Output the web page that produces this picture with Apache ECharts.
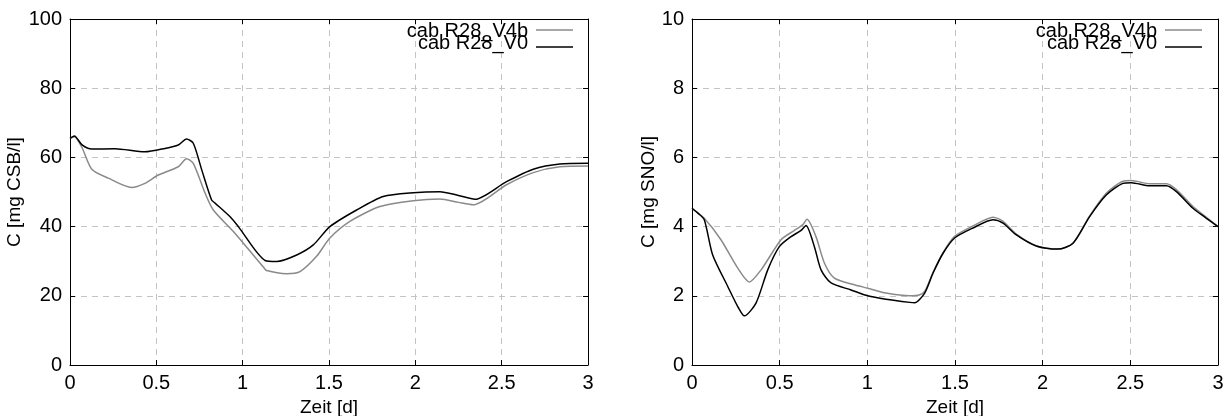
<!DOCTYPE html>
<html>
<head>
<meta charset="utf-8">
<script src="https://cdn.jsdelivr.net/npm/echarts@6/dist/echarts.min.js"></script>
<style>
html,body{margin:0;padding:0;background:#fff;}
#chart{width:1230px;height:416px;}
</style>
</head>
<body>
<div id="chart"></div>
<script>
// Tick labels
const xTicks = [0, 0.5, 1, 1.5, 2, 2.5, 3];
const seriesNames = ['cab R28_V4b', 'cab R28_V0'];

// CSB, variant V4b
const csbV4bT = [0, 0.025, 0.068, 0.126, 0.222, 0.357, 0.434, 0.511, 0.627, 0.675, 0.714, 0.782, 0.83, 0.955, 1.12, 1.139, 1.255, 1.332, 1.428, 1.505, 1.621, 1.795, 1.988, 2.142, 2.25, 2.335, 2.528, 2.683, 2.837, 3];
const csbV4b  = [65.5, 66.0, 63.0, 56.6, 54.0, 51.3, 52.5, 54.9, 57.3, 59.6, 58.3, 49.7, 44.8, 38.1, 28.3, 27.3, 26.4, 27.0, 31.4, 36.7, 41.5, 45.8, 47.5, 48.0, 47.0, 46.3, 52.1, 55.6, 57.3, 57.5];

// CSB, variant V0
const csbV0T = [0, 0.025, 0.07, 0.126, 0.26, 0.434, 0.55, 0.627, 0.675, 0.714, 0.763, 0.82, 0.84, 0.926, 0.975, 1.13, 1.196, 1.313, 1.409, 1.505, 1.66, 1.814, 1.988, 2.142, 2.25, 2.345, 2.528, 2.683, 2.837, 3];
const csbV0  = [65.5, 66.2, 63.6, 62.4, 62.5, 61.6, 62.6, 63.6, 65.3, 64.1, 56.4, 47.7, 46.8, 42.9, 40.0, 30.2, 29.9, 31.8, 34.7, 40.0, 44.8, 48.7, 49.8, 50.1, 49.0, 47.9, 53.0, 56.6, 58.1, 58.3];

// SNO, variant V4b
const snoV4bT = [0, 0.07, 0.165, 0.261, 0.327, 0.394, 0.508, 0.584, 0.631, 0.656, 0.707, 0.755, 0.812, 0.926, 1.002, 1.106, 1.242, 1.299, 1.33, 1.375, 1.432, 1.498, 1.603, 1.717, 1.774, 1.85, 1.964, 2.087, 2.173, 2.268, 2.364, 2.458, 2.506, 2.61, 2.706, 2.763, 2.857, 2.934, 3];
const snoV4b  = [4.53, 4.24, 3.62, 2.8, 2.40, 2.75, 3.62, 3.89, 4.05, 4.21, 3.71, 2.95, 2.51, 2.32, 2.22, 2.08, 2.0, 2.03, 2.15, 2.68, 3.25, 3.72, 4.02, 4.27, 4.15, 3.78, 3.44, 3.35, 3.52, 4.31, 4.97, 5.31, 5.33, 5.24, 5.24, 5.07, 4.58, 4.27, 4.0];

// SNO, variant V0
const snoV0T = [0, 0.033, 0.07, 0.118, 0.204, 0.261, 0.299, 0.365, 0.432, 0.498, 0.565, 0.622, 0.65, 0.698, 0.736, 0.793, 0.907, 1.002, 1.106, 1.242, 1.27, 1.327, 1.375, 1.432, 1.498, 1.603, 1.717, 1.774, 1.85, 1.964, 2.087, 2.173, 2.268, 2.364, 2.458, 2.506, 2.61, 2.706, 2.763, 2.857, 2.934, 3];
const snoV0  = [4.53, 4.39, 4.2, 3.18, 2.27, 1.69, 1.42, 1.79, 2.75, 3.42, 3.71, 3.89, 4.03, 3.42, 2.75, 2.37, 2.17, 2.0, 1.9, 1.81, 1.8, 2.08, 2.66, 3.23, 3.67, 3.96, 4.2, 4.1, 3.76, 3.44, 3.35, 3.52, 4.29, 4.92, 5.25, 5.27, 5.18, 5.18, 5.01, 4.53, 4.24, 4.0];

const FONT = '"Liberation Sans", Arial, sans-serif';
const FS = 20;      // tick labels and key
const FS_NAME = 19; // axis titles
const GRAY = '#8a8a8a';
const BLACK = '#000000';
const COLORS = [GRAY, BLACK];
const pair = (t, v) => t.map((x, i) => [x, v[i]]);

const gridLine = { show: true, lineStyle: { color: '#c4c4c4', type: [6, 5], width: 1 } };
const axisLine = { show: true, onZero: false, lineStyle: { color: '#000', width: 1 } };
const tickIn = { show: true, inside: true, length: 5, lineStyle: { color: '#000' } };
const lbl = { color: '#000', fontFamily: FONT, fontSize: FS };

function xAxes(gi) {
  return [
    { type: 'value', gridIndex: gi, min: 0, max: 3, interval: 0.5, position: 'bottom',
      name: 'Zeit [d]', nameLocation: 'middle', nameGap: 31,
      nameTextStyle: { color: '#000', fontFamily: FONT, fontSize: FS_NAME },
      axisLine, axisTick: tickIn, splitLine: gridLine,
      axisLabel: Object.assign({ margin: 8, showMinLabel: true, showMaxLabel: true }, lbl) },
    { type: 'value', gridIndex: gi, min: 0, max: 3, interval: 0.5, position: 'top',
      axisLine, axisTick: tickIn, splitLine: { show: false }, axisLabel: { show: false } }
  ];
}
function yAxes(gi, max, interval, name, gap) {
  return [
    { type: 'value', gridIndex: gi, min: 0, max, interval, position: 'left',
      name, nameLocation: 'middle', nameGap: gap,
      nameTextStyle: { color: '#000', fontFamily: FONT, fontSize: FS_NAME },
      axisLine, axisTick: tickIn, splitLine: gridLine,
      axisLabel: Object.assign({ margin: 8 }, lbl) },
    { type: 'value', gridIndex: gi, min: 0, max, interval, position: 'right',
      axisLine, axisTick: tickIn, splitLine: { show: false }, axisLabel: { show: false } }
  ];
}
function line(name, data, color, gi) {
  return {
    name, type: 'line', data, xAxisIndex: gi * 2, yAxisIndex: gi * 2,
    smooth: 0.25, symbol: 'none', animation: false,
    lineStyle: { color, width: 1.5 }, itemStyle: { color }
  };
}
// Key in the upper right corner of each panel: right-aligned names, sample line to the right
function key(lineRight) {
  const rows = [{ ty: 31.5, ly: 30 }, { ty: 43.5, ly: 47 }];
  const els = [];
  seriesNames.forEach((n, i) => {
    els.push({ type: 'text', x: lineRight - 45, y: rows[i].ty, z: 10,
      style: { text: n, fill: '#000', font: FS + 'px ' + FONT, align: 'right', verticalAlign: 'middle' } });
    els.push({ type: 'line', z: 10,
      shape: { x1: lineRight - 37, y1: rows[i].ly, x2: lineRight, y2: rows[i].ly },
      style: { stroke: COLORS[i], lineWidth: 1.5 } });
  });
  return els;
}

const chart = echarts.init(document.getElementById('chart'), null, { renderer: 'canvas' });
chart.setOption({
  backgroundColor: '#fff',
  animation: false,
  grid: [
    { left: 70, top: 19, width: 518, height: 346, containLabel: false, outerBoundsMode: 'none' },
    { left: 692, top: 19, width: 526, height: 346, containLabel: false, outerBoundsMode: 'none' }
  ],
  xAxis: [...xAxes(0), ...xAxes(1)],
  yAxis: [...yAxes(0, 100, 20, 'C [mg CSB/l]', 38), ...yAxes(1, 10, 2, 'C [mg SNO/l]', 30)],
  graphic: [...key(573), ...key(1202)],
  series: [
    line(seriesNames[0], pair(csbV4bT, csbV4b), GRAY, 0),
    line(seriesNames[1], pair(csbV0T, csbV0), BLACK, 0),
    line(seriesNames[0], pair(snoV4bT, snoV4b), GRAY, 1),
    line(seriesNames[1], pair(snoV0T, snoV0), BLACK, 1)
  ]
});
</script>
</body>
</html>
